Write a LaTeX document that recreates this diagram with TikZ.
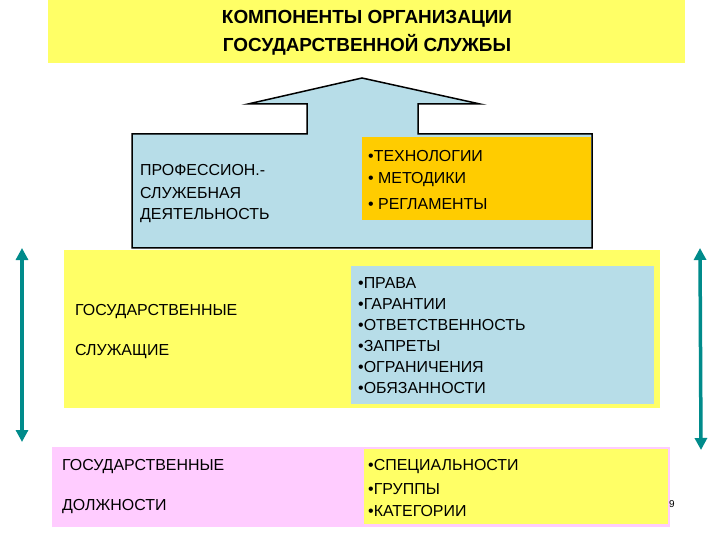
\documentclass[tikz,border=0pt]{standalone}
\usepackage{fontspec}
\usetikzlibrary{arrows.meta}
\setmainfont{Liberation Sans}
\definecolor{ylw}{HTML}{FFFF66}
\definecolor{lblue}{HTML}{B7DDE8}
\definecolor{org}{HTML}{FFCC00}
\definecolor{pnk}{HTML}{FFCCFF}
\definecolor{teal2}{HTML}{008B8B}
\begin{document}
\begin{tikzpicture}[x=1bp,y=-1bp,
  txt/.style={anchor=west,inner sep=0pt,font=\fontsize{16}{19}\selectfont},
  dbl/.style={teal2,line width=3.5bp,{Triangle[width=12bp,length=12bp]}-{Triangle[width=12bp,length=12bp]}}]
\useasboundingbox (0,0) rectangle (720,540);
\fill[ylw] (48,0) rectangle (685,63);
\node[align=center,font=\bfseries\fontsize{19}{28}\selectfont] (title) at (367,33) {КОМПОНЕНТЫ ОРГАНИЗАЦИИ\\ГОСУДАРСТВЕННОЙ СЛУЖБЫ};
\draw[fill=lblue,line width=1.5bp] (132,248) -- (132,134) -- (307,134) -- (307,104) -- (248,104) -- (362,78) -- (480,104) -- (418,104) -- (418,134) -- (592,134) -- (592,248) -- cycle;
\fill[org] (362,137) rectangle (591,220);
\node[txt] (t1) at (368,156) {•ТЕХНОЛОГИИ};
\node[txt] (t2) at (368,180) {• МЕТОДИКИ};
\node[txt] (t3) at (368,204) {• РЕГЛАМЕНТЫ};
\node[txt] (p1) at (140,170) {ПРОФЕССИОН.-};
\node[txt] (p2) at (140,193) {СЛУЖЕБНАЯ};
\node[txt] (p3) at (140,216) {ДЕЯТЕЛЬНОСТЬ};
\fill[ylw] (64,250) rectangle (660,408);
\fill[lblue] (351,266) rectangle (654,404);
\foreach \t [count=\i] in {ПРАВА,ГАРАНТИИ,ОТВЕТСТВЕННОСТЬ,ЗАПРЕТЫ,ОГРАНИЧЕНИЯ,ОБЯЗАННОСТИ}
  \node[txt] (r\i) at (358,262+\i*21) {•\t};
\node[txt] (g1) at (75,312) {ГОСУДАРСТВЕННЫЕ};
\node[txt] (g2) at (75,352) {СЛУЖАЩИЕ};
\fill[pnk] (52,447) rectangle (670,527);
\fill[ylw] (364,449) rectangle (668,524);
\node[txt] (s1) at (368,467) {•СПЕЦИАЛЬНОСТИ};
\node[txt] (s2) at (368,489) {•ГРУППЫ};
\node[txt] (s3) at (368,511) {•КАТЕГОРИИ};
\node[txt] (d1) at (62,467) {ГОСУДАРСТВЕННЫЕ};
\node[txt] (d2) at (62,507) {ДОЛЖНОСТИ};
\node[anchor=west,inner sep=0pt,font=\fontsize{10}{12}\selectfont] (n) at (669,504) {9};
\coordinate (la) at (22,248); \coordinate (lb) at (22,442);
\coordinate (ra) at (700,248); \coordinate (rb) at (701,450);
\draw[dbl] (la) -- (lb);
\draw[dbl] (ra) -- (rb);
\end{tikzpicture}
\end{document}
